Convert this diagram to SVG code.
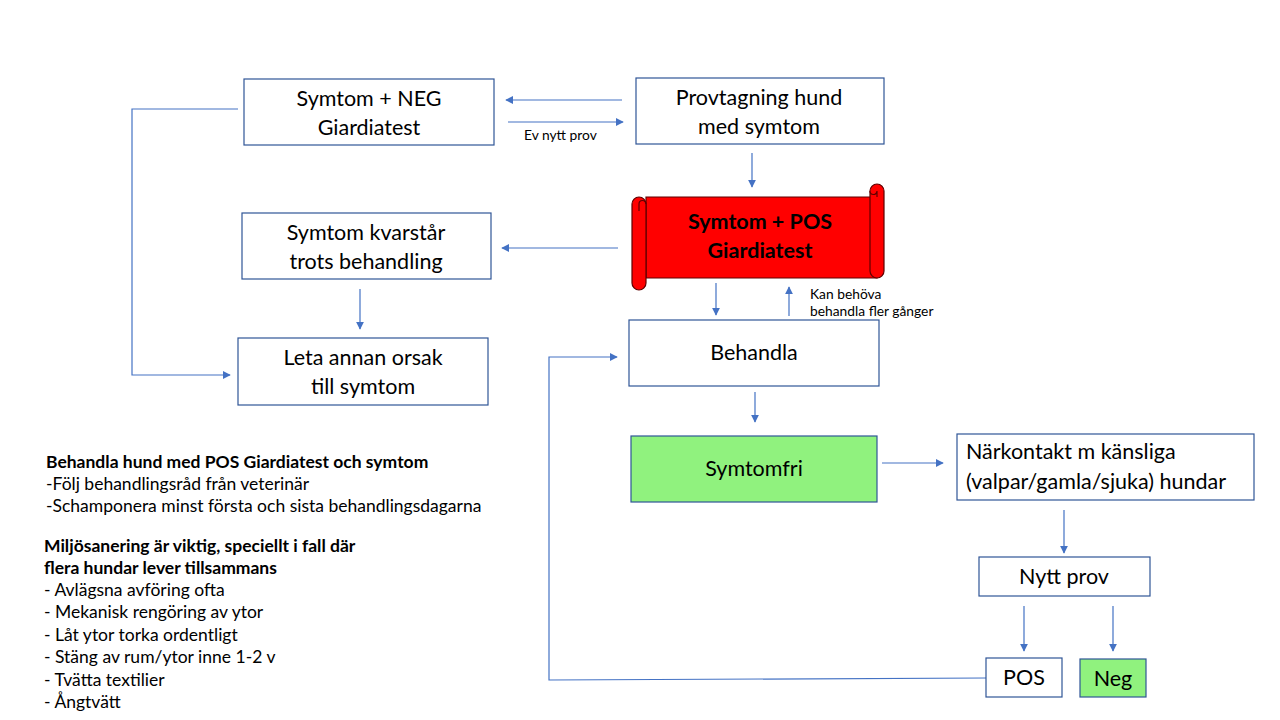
<svg xmlns="http://www.w3.org/2000/svg" width="1280" height="720" viewBox="0 0 1280 720">
<defs>
<marker id="ah" viewBox="0 0 10 10" refX="9" refY="5" markerWidth="8" markerHeight="8" markerUnits="userSpaceOnUse" orient="auto">
<path d="M0,0 L10,5 L0,10 Z" fill="#4472C4"/>
</marker>
<style>
.box{fill:#fff;stroke:#2F5597;stroke-width:1.2}
.green{fill:#90F27E;stroke:#2F5597;stroke-width:1.2}
.t{font-family:Lato,"Liberation Sans",sans-serif;font-size:21.5px;fill:#000;text-anchor:middle}
.tl{font-family:Lato,"Liberation Sans",sans-serif;font-size:21.5px;fill:#000}
.sm{font-family:Lato,"Liberation Sans",sans-serif;font-size:13.8px;fill:#000}
.note{font-family:Lato,"Liberation Sans",sans-serif;font-size:17.5px;fill:#000}
.b{font-weight:bold}
.c{fill:none;stroke:#4472C4;stroke-width:1.2}
.ca{fill:none;stroke:#4472C4;stroke-width:1.2;marker-end:url(#ah)}
.scroll{fill:#FF0000;stroke:#600000;stroke-width:1.2}
</style>
</defs>
<rect width="1280" height="720" fill="#fff"/>

<g id="connectors">
<line class="ca" x1="622" y1="100" x2="506" y2="100"/>
<line class="ca" x1="508" y1="122" x2="623" y2="122"/>
<line class="ca" x1="752" y1="153" x2="752" y2="187"/>
<line class="ca" x1="618" y1="248" x2="502" y2="248"/>
<line class="ca" x1="360" y1="289" x2="360" y2="329"/>
<polyline class="ca" points="238,109 132,109 132,375 230,375"/>
<line class="ca" x1="716" y1="283" x2="716" y2="315"/>
<line class="ca" x1="789" y1="316" x2="789" y2="287"/>
<polyline class="ca" points="986,678 549,680 549,357 617,357"/>
<line class="ca" x1="755" y1="392" x2="755" y2="422"/>
<line class="ca" x1="882" y1="463" x2="943" y2="463"/>
<line class="ca" x1="1064" y1="510" x2="1064" y2="553"/>
<line class="ca" x1="1024" y1="606" x2="1024" y2="651"/>
<line class="ca" x1="1113" y1="606" x2="1113" y2="651"/>
<text class="sm" x="524" y="140">Ev nytt prov</text>
<text class="sm" x="810" y="299">Kan behöva</text>
<text class="sm" x="810" y="316">behandla fler gånger</text>
</g>

<g id="neg">
<rect class="box" x="244" y="79" width="250" height="66"/>
<text class="t" x="369" y="106">Symtom + NEG</text>
<text class="t" x="369" y="135">Giardiatest</text>
</g>

<g id="provtagning">
<rect class="box" x="636" y="78" width="248" height="66"/>
<text class="t" x="759" y="105">Provtagning hund</text>
<text class="t" x="759" y="134">med symtom</text>
</g>

<g id="pos">
<path class="scroll" d="M646,197 H877 V278 H646 Z"/>
<path class="scroll" d="M870,191 A7,7 0 0 1 884,191 V271 A7,7 0 0 1 870,271 Z"/>
<path class="scroll" d="M870,191 A3.5,3.5 0 0 0 877,191 M877,191 V197" fill="none"/>
<path class="scroll" d="M632,204 A7,7 0 0 1 646,204 V283 A7,7 0 0 1 632,283 Z"/>
<path d="M639,204 A3.5,3.5 0 0 1 646,204 M639,204 V211" fill="none" stroke="#600000" stroke-width="1.2"/>
<text class="t b" x="760" y="229">Symtom + POS</text>
<text class="t b" x="760" y="258">Giardiatest</text>
</g>

<g id="kvarstar">
<rect class="box" x="242" y="213" width="249" height="66"/>
<text class="t" x="366" y="240">Symtom kvarstår</text>
<text class="t" x="366" y="269">trots behandling</text>
</g>

<g id="leta">
<rect class="box" x="238" y="338" width="250" height="67"/>
<text class="t" x="363" y="365">Leta annan orsak</text>
<text class="t" x="363" y="394">till symtom</text>
</g>

<g id="behandla">
<rect class="box" x="629" y="320" width="250" height="66"/>
<text class="t" x="754" y="360">Behandla</text>
</g>

<g id="symtomfri">
<rect class="green" x="631" y="436" width="246" height="66"/>
<text class="t" x="754" y="476">Symtomfri</text>
</g>

<g id="narkontakt">
<rect class="box" x="957" y="434" width="297" height="66"/>
<text class="tl" x="966" y="459">Närkontakt m känsliga</text>
<text class="tl" x="966" y="489">(valpar/gamla/sjuka) hundar</text>
</g>

<g id="nyttprov">
<rect class="box" x="979" y="557" width="171" height="39"/>
<text class="t" x="1064" y="584">Nytt prov</text>
</g>

<g id="posbox">
<rect class="box" x="986" y="658" width="76" height="39"/>
<text class="t" x="1024" y="685">POS</text>
</g>

<g id="negbox">
<rect class="green" x="1080" y="659" width="66" height="38"/>
<text class="t" x="1113" y="686">Neg</text>
</g>

<g id="notes">
<text class="note b" x="46" y="468">Behandla hund med POS Giardiatest och symtom</text>
<text class="note" x="46" y="490">-Följ behandlingsråd från veterinär</text>
<text class="note" x="46" y="512">-Schamponera minst första och sista behandlingsdagarna</text>
<text class="note b" x="44" y="552">Miljösanering är viktig, speciellt i fall där</text>
<text class="note b" x="44" y="574">flera hundar lever tillsammans</text>
<text class="note" x="44" y="596">- Avlägsna avföring ofta</text>
<text class="note" x="44" y="618">- Mekanisk rengöring av ytor</text>
<text class="note" x="44" y="641">- Låt ytor torka ordentligt</text>
<text class="note" x="44" y="663">- Stäng av rum/ytor inne 1-2 v</text>
<text class="note" x="44" y="686">- Tvätta textilier</text>
<text class="note" x="44" y="708">- Ångtvätt</text>
</g>
</svg>
